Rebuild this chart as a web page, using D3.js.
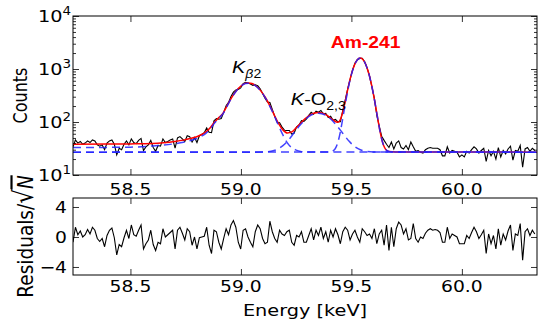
<!DOCTYPE html>
<html>
<head>
<meta charset="utf-8">
<script src="https://cdn.jsdelivr.net/npm/d3@7"></script>
<style>
  body { margin: 0; background: #fff; }
  svg text { font-family: "DejaVu Sans", sans-serif; fill: #000; }
</style>
</head>
<body>
<script>
// ---- data ---------------------------------------------------------------

// spectrum channels: first bin energy and bin width (keV)
var binStart = 58.24, binWidth = 0.011;

// measured counts per channel
var counts = [
  34, 46, 40, 43, 38, 40, 44, 41, 46, 44,
  37, 35, 37, 30, 40, 44, 46, 38, 24, 32,
  30, 38, 44, 37, 48, 41, 39, 45, 49, 29,
  34, 37, 45, 33, 28, 36, 35, 48, 41, 43,
  46, 48, 32, 50, 53, 48, 43, 55, 53, 42,
  51, 41, 55, 58, 63, 77, 64, 63, 105, 116,
  113, 116, 152, 203, 234, 303, 366, 403, 412, 439,
  528, 562, 544, 522, 492, 504, 482, 422, 346, 282,
  238, 233, 172, 128, 99, 97, 80, 70, 69, 69,
  59, 62, 81, 88, 106, 103, 113, 133, 152, 140,
  160, 153, 165, 143, 146, 122, 129, 108, 112, 101,
  101, 164, 260, 418, 630, 952, 1282, 1500, 1580, 1593,
  1370, 1051, 741, 456, 278, 134, 84, 54, 45, 38,
  33, 42, 31, 40, 44, 33, 31, 36, 30, 42,
  34, 28, 29, 27, 26, 30, 32, 33, 32, 32,
  32, 30, 23, 23, 34, 26, 29, 28, 27, 22,
  24, 22, 28, 26, 30, 34, 31, 26, 29, 32,
  18, 29, 23, 28, 20, 33, 22, 29, 25, 31,
  35, 19, 29, 28, 36, 14, 31, 33, 28, 32, 29
];

// normalised residuals per channel
var residuals = [
  -0.7, 1.3, 0.3, 0.8, 0.0, 0.3, 1.0, 0.4, 1.3, 0.9,
  -0.2, -0.6, -0.2, -1.3, 0.2, 0.9, 1.2, -0.1, -2.4, -1.0,
  -1.3, -0.1, 0.9, -0.2, 1.6, 0.3, 0.1, 0.9, 1.6, -1.6,
  -0.9, -0.4, 0.9, -1.0, -1.8, -0.7, -0.9, 1.1, 0.0, 0.3,
  0.6, 0.9, -1.6, 0.9, 1.3, 0.5, -0.4, 1.1, 0.7, -1.1,
  0.0, -1.6, -0.1, 0.0, 0.1, 1.3, -1.1, -2.2, 0.9, 0.7,
  -0.7, -1.6, -0.2, 1.1, 0.3, 1.6, 2.2, 1.3, -0.7, -1.6,
  0.9, 1.1, 0.0, -0.7, -1.3, 0.7, 1.6, 1.1, -0.2, -0.9,
  -0.7, 2.1, 0.7, -0.2, -0.7, 0.9, 0.4, 0.2, 0.7, 0.9,
  -0.7, -1.1, 0.2, 0.0, 0.7, -0.7, -0.7, 0.2, 1.1, -0.4,
  0.9, 0.2, 1.3, -0.2, 0.7, -0.7, 0.9, 0.0, 1.1, 0.3,
  -0.9, 0.7, 1.3, 0.9, -0.4, 0.4, 0.9, 0.0, -0.7, 1.1,
  0.7, 0.2, 0.4, -0.2, 1.1, -0.9, 0.4, 0.9, -1.1, 1.6,
  -1.8, 1.3, -1.3, 1.1, 2.0, 1.6, 0.4, 1.1, -0.4, -0.2,
  1.8, -0.2, -0.7, 0.0, -0.2, 0.5, 0.9, 1.1, 0.9, 1.0,
  0.9, 0.6, -0.7, -0.7, 1.3, -0.2, 0.4, 0.2, 0.0, -0.9,
  -0.9, -0.9, 0.2, -0.2, 0.6, 1.3, 0.7, -0.2, 0.3, 0.9,
  -2.2, 0.4, -0.9, 0.2, -1.6, 1.1, -1.1, 0.4, -0.4, 0.8,
  1.6, -1.8, 0.4, 0.2, 1.8, -3.1, 0.7, 1.1, 0.2, 0.9, 0.4
];

// total fit (red)
var fitE = [58.24, 58.40, 58.50, 58.60, 58.65, 58.70, 58.74, 58.78, 58.80, 58.82,
            58.84, 58.86, 58.88, 58.90, 58.92, 58.94, 58.96, 58.98, 59.00, 59.02,
            59.035, 59.05, 59.07, 59.09, 59.11, 59.13, 59.15, 59.17, 59.19, 59.21,
            59.23, 59.25, 59.27, 59.29, 59.31, 59.33, 59.35, 59.37, 59.39, 59.41,
            59.43, 59.44, 59.45, 59.46, 59.47, 59.48, 59.49, 59.50, 59.51, 59.52,
            59.53, 59.54, 59.55, 59.56, 59.57, 59.58, 59.59, 59.60, 59.61, 59.62,
            59.63, 59.64, 59.65, 59.66, 59.67, 59.70, 60.34];
var fitN = [38, 38.3, 38.6, 39.4, 40.7, 42.9, 45.5, 49.8, 52.8, 57.5,
            64.5, 76.8, 98.7, 121, 149, 212, 299, 393, 478, 536,
            544, 531, 472, 387, 293, 206, 138, 94, 71, 62,
            65, 78, 95, 115, 134, 146, 151, 146, 133, 115,
            101, 98.5, 111, 149, 223, 353, 546, 799, 1082, 1350,
            1542, 1611, 1539, 1344, 1073, 786, 528, 329, 193, 111,
            65, 43, 33, 29, 27.7, 27.2, 27];

// fit components (blue dashed), each on top of the flat background
var kbE = [58.24, 58.50, 58.60, 58.65, 58.70, 58.74, 58.78, 58.80, 58.82, 58.84,
           58.86, 58.88, 58.90, 58.92, 58.94, 58.96, 58.98, 59.00, 59.02, 59.035,
           59.05, 59.07, 59.09, 59.11, 59.13, 59.15, 59.17, 59.19, 59.21, 59.23,
           59.25, 59.27, 59.30, 60.34];
var kbN = [33, 33.5, 35.3, 36.7, 38.9, 41.5, 45.8, 48.8, 53.5, 60.5,
           72.8, 94.7, 117, 145, 208, 295, 389, 474, 532, 540,
           526, 468, 383, 289, 202, 134, 86, 57, 40.5, 32.7,
           29.5, 27.8, 27.1, 27];

var koE = [58.24, 59.05, 59.10, 59.15, 59.17, 59.19, 59.21, 59.23, 59.25, 59.27,
           59.29, 59.31, 59.33, 59.35, 59.37, 59.39, 59.41, 59.43, 59.45, 59.47,
           59.49, 59.51, 59.53, 59.55, 59.60, 60.34];
var koN = [27, 27, 27.2, 29, 31.4, 35.8, 43.2, 54.6, 70.2, 89.4,
           110, 129, 142, 147, 142, 129, 110, 89.4, 70.2, 54.6,
           43.2, 35.8, 31.4, 29, 27.2, 27];

var amE = [58.24, 59.40, 59.42, 59.43, 59.44, 59.45, 59.46, 59.47, 59.48, 59.49,
           59.50, 59.51, 59.52, 59.53, 59.54, 59.55, 59.56, 59.57, 59.58, 59.59,
           59.60, 59.61, 59.62, 59.63, 59.64, 59.65, 59.66, 59.68, 60.34];
var amN = [27, 27.2, 29.1, 33.1, 43, 65, 111, 193, 329, 528,
           785, 1072, 1342, 1536, 1607, 1536, 1342, 1072, 785, 528,
           329, 193, 111, 65, 43, 33.1, 29.1, 27.2, 27];

// ticks
var xTicks = [58.5, 59.0, 59.5, 60.0];
var logTicks = [10, 100, 1000, 10000];
var logExp = ['1', '2', '3', '4'];
var resTicks = [-4, 0, 4];

// ---- layout ---------------------------------------------------------------
var sx = 1.17; // text in the picture is a little wider than tall
var W = 540, H = 324;
var svg = d3.select('body').append('svg').attr('width', W).attr('height', H);

var x = d3.scaleLinear().domain([58.24, 60.34]).range([73, 537]);
var yTop = d3.scaleLog().domain([10, 1e4]).range([175, 16]);
var yRes = d3.scaleLinear().domain([-5.07, 5.2]).range([275, 198]);

// NB: "top" is taken by window.top, so the panels get other names
var pTop = {t: 16, b: 175}, pBot = {t: 198, b: 275};

// clip regions
var defs = svg.append('defs');
defs.append('clipPath').attr('id', 'clipTop').append('rect')
  .attr('x', 73).attr('y', pTop.t).attr('width', 464).attr('height', pTop.b - pTop.t);
defs.append('clipPath').attr('id', 'clipBot').append('rect')
  .attr('x', 73).attr('y', pBot.t).attr('width', 464).attr('height', pBot.b - pBot.t);

// stretched text helper
function txt(g, px, py, str, anchor, size) {
  return g.append('text')
    .attr('transform', 'translate(' + px + ',' + py + ') scale(' + sx + ',1)')
    .attr('text-anchor', anchor || 'middle')
    .style('font-size', (size || 16) + 'px')
    .text(str);
}

// ---- top panel ------------------------------------------------------------
var chanE = counts.map(function (c, i) { return binStart + binWidth * i; });

var gTop = svg.append('g').attr('clip-path', 'url(#clipTop)');

gTop.append('path')
  .datum(counts)
  .attr('fill', 'none').attr('stroke', '#000').attr('stroke-width', 1.1)
  .attr('d', d3.line().x(function (d, i) { return x(chanE[i]); }).y(function (d) { return yTop(d); }));

var smooth = function (E) {
  return d3.line().curve(d3.curveMonotoneX)
    .x(function (d, i) { return x(E[i]); }).y(function (d) { return yTop(d); });
};

gTop.append('path').datum(fitN)
  .attr('fill', 'none').attr('stroke', '#ff0000').attr('stroke-width', 1.5)
  .attr('d', smooth(fitE));

[[kbE, kbN], [koE, koN], [amE, amN]].forEach(function (c) {
  gTop.append('path').datum(c[1])
    .attr('fill', 'none').attr('stroke', '#2222ff').attr('stroke-opacity', 0.85)
    .attr('stroke-width', 1.5).attr('stroke-dasharray', '8,5')
    .attr('d', smooth(c[0]));
});

// ticks, inward on all four sides
var minorTicks = [];
[10, 100, 1000].forEach(function (dec) {
  for (var k = 2; k <= 9; k++) minorTicks.push(dec * k);
});

function tickAxis(axis, tr) {
  var g = svg.append('g').attr('transform', tr).call(axis);
  g.select('.domain').remove();
  g.selectAll('line').attr('stroke', '#000').attr('stroke-width', 0.8);
  g.selectAll('text').remove();
  return g;
}
tickAxis(d3.axisBottom(x).tickValues(xTicks).tickSize(-6), 'translate(0,' + pTop.b + ')');
tickAxis(d3.axisTop(x).tickValues(xTicks).tickSize(-6), 'translate(0,' + pTop.t + ')');
tickAxis(d3.axisLeft(yTop).tickValues(logTicks).tickSize(-6), 'translate(73,0)');
tickAxis(d3.axisRight(yTop).tickValues(logTicks).tickSize(-6), 'translate(537,0)');
tickAxis(d3.axisLeft(yTop).tickValues(minorTicks).tickSize(-3), 'translate(73,0)');
tickAxis(d3.axisRight(yTop).tickValues(minorTicks).tickSize(-3), 'translate(537,0)');

svg.append('rect').attr('x', 73).attr('y', pTop.t).attr('width', 464).attr('height', pTop.b - pTop.t)
  .attr('fill', 'none').attr('stroke', '#000').attr('stroke-width', 1);

// tick labels
xTicks.forEach(function (v) { txt(svg, x(v), 195, v.toFixed(1)); });
logTicks.forEach(function (v, i) {
  var t = svg.append('text')
    .attr('transform', 'translate(71,' + (yTop(v) + 6) + ') scale(' + sx + ',1)')
    .attr('text-anchor', 'end').style('font-size', '16.5px');
  t.append('tspan').text('10');
  t.append('tspan').attr('dy', -7.5).style('font-size', '11.5px').text(logExp[i]);
});

svg.append('text')
  .attr('transform', 'translate(27,' + ((pTop.t + pTop.b) / 2) + ') scale(' + sx + ',1) rotate(-90)')
  .attr('text-anchor', 'middle').style('font-size', '16px').text('Counts');

// peak labels
var annFont = '"Liberation Sans", Arial, sans-serif';
var a1 = svg.append('text')
  .attr('transform', 'translate(' + x(58.96) + ',' + yTop(835) + ') scale(' + sx + ',1)')
  .style('font-size', '17px').style('font-family', annFont);
a1.append('tspan').style('font-style', 'italic').text('K');
a1.append('tspan').attr('dy', 5).style('font-size', '12px').style('font-style', 'italic').text('β');
a1.append('tspan').style('font-size', '12px').text('2');

var a2 = svg.append('text')
  .attr('transform', 'translate(' + x(59.226) + ',' + yTop(209) + ') scale(' + sx + ',1)')
  .style('font-size', '17px').style('font-family', annFont);
a2.append('tspan').style('font-style', 'italic').text('K');
a2.append('tspan').text('-O');
a2.append('tspan').attr('dy', 5).style('font-size', '12px').text('2,3');

svg.append('text')
  .attr('transform', 'translate(' + x(59.407) + ',' + yTop(2490) + ') scale(' + sx + ',1)')
  .style('font-size', '16.5px').style('font-weight', 'bold').style('fill', '#ff0000')
  .style('font-family', annFont)
  .text('Am-241');

// ---- residual panel -------------------------------------------------------
svg.append('g').attr('clip-path', 'url(#clipBot)')
  .append('path').datum(residuals)
  .attr('fill', 'none').attr('stroke', '#000').attr('stroke-width', 1.1)
  .attr('d', d3.line().x(function (d, i) { return x(chanE[i]); }).y(function (d) { return yRes(d); }));

tickAxis(d3.axisBottom(x).tickValues(xTicks).tickSize(-6), 'translate(0,' + pBot.b + ')');
tickAxis(d3.axisTop(x).tickValues(xTicks).tickSize(-6), 'translate(0,' + pBot.t + ')');
tickAxis(d3.axisLeft(yRes).tickValues(resTicks).tickSize(-6), 'translate(73,0)');
tickAxis(d3.axisRight(yRes).tickValues(resTicks).tickSize(-6), 'translate(537,0)');

svg.append('rect').attr('x', 73).attr('y', pBot.t).attr('width', 464).attr('height', pBot.b - pBot.t)
  .attr('fill', 'none').attr('stroke', '#000').attr('stroke-width', 1);

xTicks.forEach(function (v) { txt(svg, x(v), 292, v.toFixed(1)); });
resTicks.forEach(function (v) { txt(svg, 67, yRes(v) + 6, d3.format('d')(v), 'end'); });

// label sits further right than "Counts": its tick labels are narrower
var rl = svg.append('text')
  .attr('transform', 'translate(33,' + ((pBot.t + pBot.b) / 2) + ') scale(' + sx + ',1) rotate(-90)')
  .attr('text-anchor', 'middle').style('font-size', '18.5px');
rl.append('tspan').text('Residuals/');
rl.append('tspan').style('font-size', '23px').text('√');
rl.append('tspan').style('font-style', 'italic').style('text-decoration', 'overline').text('N');

txt(svg, (73 + 537) / 2, 316, 'Energy [keV]', 'middle', 16.5);
</script>
</body>
</html>
